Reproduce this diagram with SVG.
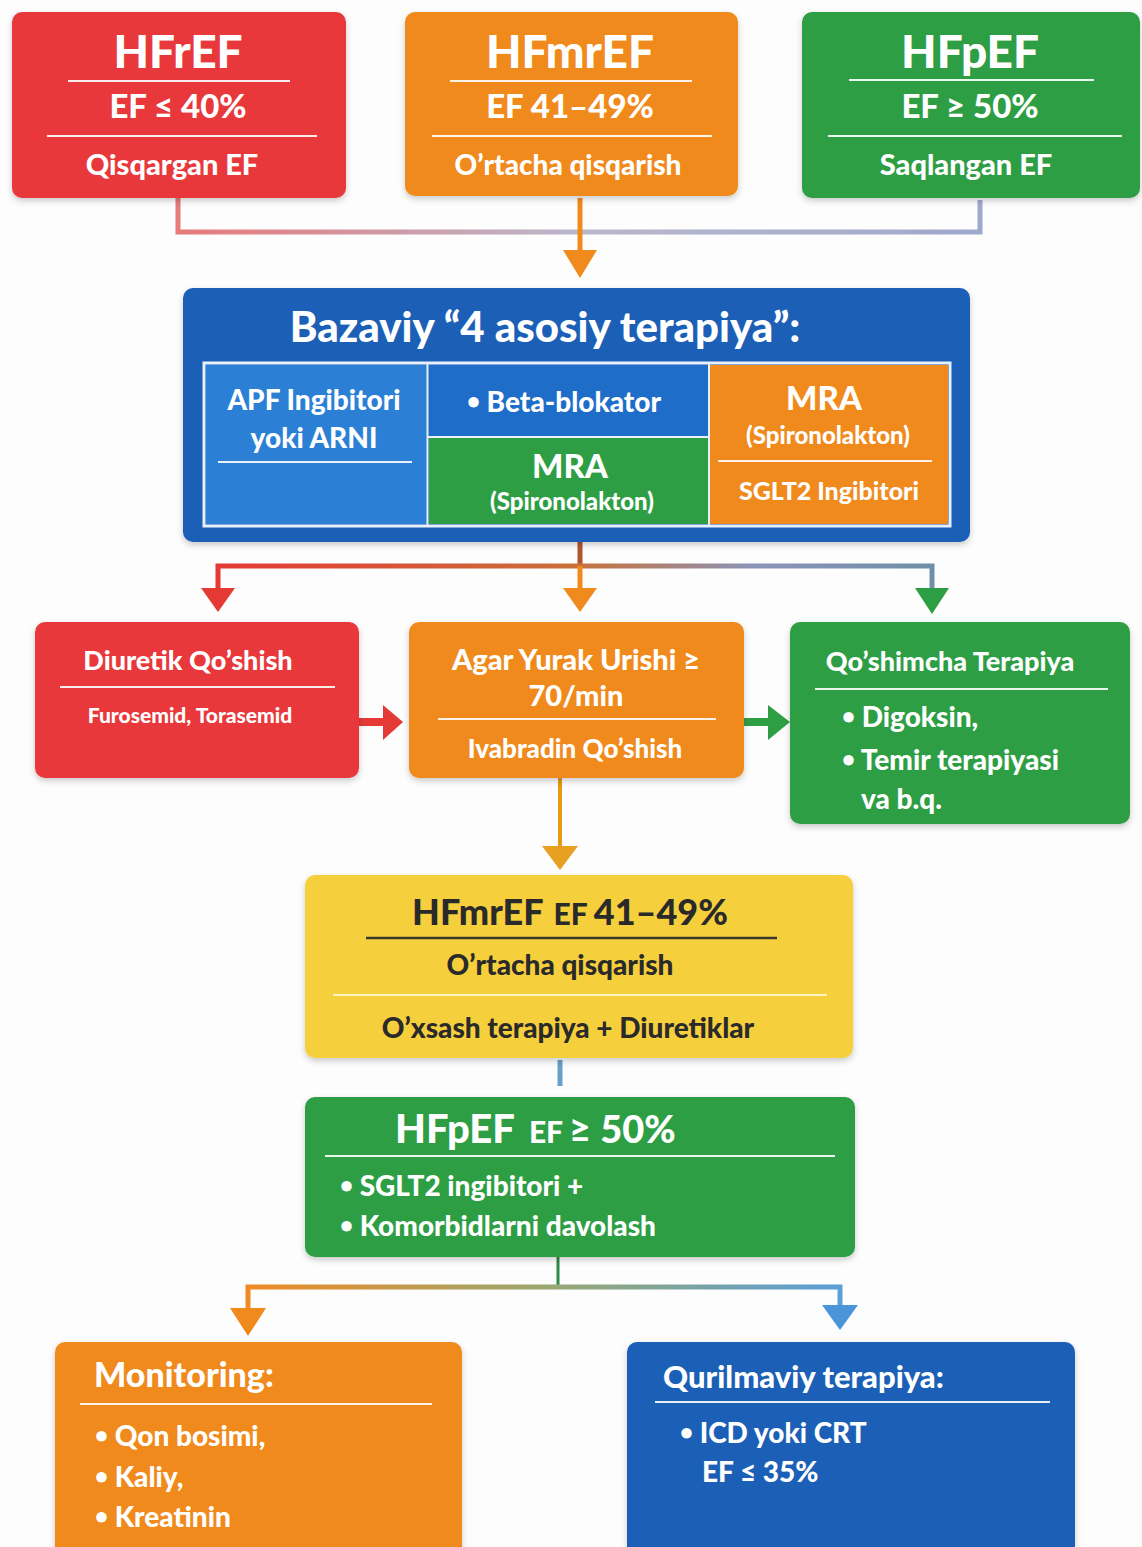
<svg xmlns="http://www.w3.org/2000/svg" width="1142" height="1547" viewBox="0 0 1142 1547">
<style>
text{font-family:Lato,"Open Sans","Liberation Sans",sans-serif;font-weight:900;fill:#fff}
.c{text-anchor:middle}
.dk{fill:#2a2a2a}
.b{font-size:0.8em;baseline-shift:0.12em}
.sep{stroke:#fff;stroke-width:2;opacity:0.9}
.sepd{stroke:#3a3a2a;stroke-width:2.5}
.sepl{stroke:#fff3c0;stroke-width:2}
</style>
<defs>
<filter id="sh" x="-5%" y="-5%" width="110%" height="115%">
<feDropShadow dx="0" dy="3" stdDeviation="3" flood-color="#000" flood-opacity="0.2"/>
</filter>
<linearGradient id="g1" x1="0" x2="1"><stop offset="0" stop-color="#e87a7a"/><stop offset="0.5" stop-color="#b9b7cc"/><stop offset="1" stop-color="#9fa9cc"/></linearGradient>
<linearGradient id="g2" x1="0" x2="1"><stop offset="0" stop-color="#e53935"/><stop offset="0.5" stop-color="#c9703a"/><stop offset="0.75" stop-color="#8b94b8"/><stop offset="1" stop-color="#6f8fa8"/></linearGradient>
<linearGradient id="g3" x1="0" x2="1"><stop offset="0" stop-color="#f08a24"/><stop offset="0.5" stop-color="#9aa870"/><stop offset="1" stop-color="#5a9fd8"/></linearGradient>
</defs>
<rect width="1142" height="1547" fill="#fdfdfd"/>

<g id="connectors">
<path d="M178 198 V232 H980 V200" fill="none" stroke="url(#g1)" stroke-width="5"/>
<path d="M580 198 V254" stroke="#f08a1c" stroke-width="5" fill="none"/>
<polygon points="563,250 597,250 580,278" fill="#f08a1c"/>

<path d="M580 542 V566" stroke="#b0562e" stroke-width="5"/>
<path d="M218 592 V566 H932 V592" fill="none" stroke="url(#g2)" stroke-width="5"/>
<path d="M580 566 V592" stroke="#f08a1c" stroke-width="5"/>
<polygon points="201,588 235,588 218,612" fill="#e53935"/>
<polygon points="563,588 597,588 580,612" fill="#f08a1c"/>
<polygon points="915,588 949,588 932,614" fill="#2e9e44"/>

<path d="M359 722 H385" stroke="#e53935" stroke-width="8"/>
<polygon points="383,705 403,722 383,740" fill="#e53935"/>
<path d="M744 722 H770" stroke="#2e9e44" stroke-width="8"/>
<polygon points="768,705 790,722 768,740" fill="#2e9e44"/>

<path d="M560 778 V850" stroke="#e29a18" stroke-width="4"/>
<polygon points="542,846 578,846 560,870" fill="#e8a020"/>

<path d="M560 1060 V1086" stroke="#6a9fc8" stroke-width="5"/>

<path d="M558 1257 V1287" stroke="#2e8a44" stroke-width="3"/>
<path d="M248 1312 V1287 H840 V1308" fill="none" stroke="url(#g3)" stroke-width="5"/>
<polygon points="230,1308 266,1308 248,1336" fill="#f08a1c"/>
<polygon points="822,1305 858,1305 840,1330" fill="#4a94d8"/>
</g>

<g id="hfref">
<rect x="12" y="12" width="334" height="186" rx="10" fill="#e8393a" filter="url(#sh)"/>
<text x="178" y="68" class="c" font-size="46">HFrEF</text>
<line x1="68" y1="81" x2="290" y2="81" class="sep"/>
<text x="178" y="118" class="c" font-size="33">EF ≤ 40%</text>
<line x1="47" y1="136" x2="317" y2="136" class="sep"/>
<text x="172" y="175" class="c" font-size="29">Qisqargan EF</text>
</g>

<g id="hfmref">
<rect x="405" y="12" width="333" height="184" rx="10" fill="#f18a1c" filter="url(#sh)"/>
<text x="570" y="68" class="c" font-size="46">HFmrEF</text>
<line x1="450" y1="81" x2="692" y2="81" class="sep"/>
<text x="570" y="118" class="c" font-size="33">EF 41–49%</text>
<line x1="432" y1="136" x2="712" y2="136" class="sep"/>
<text x="568" y="175" class="c" font-size="28">O’rtacha qisqarish</text>
</g>

<g id="hfpef">
<rect x="802" y="12" width="338" height="186" rx="10" fill="#2e9e44" filter="url(#sh)"/>
<text x="970" y="68" class="c" font-size="46">HFpEF</text>
<line x1="849" y1="80" x2="1094" y2="80" class="sep"/>
<text x="970" y="118" class="c" font-size="33">EF ≥ 50%</text>
<line x1="828" y1="136" x2="1122" y2="136" class="sep"/>
<text x="966" y="175" class="c" font-size="29">Saqlangan EF</text>
</g>

<g id="bazaviy">
<rect x="183" y="288" width="787" height="254" rx="10" fill="#1c5fb6" filter="url(#sh)"/>
<text x="545" y="342" class="c" font-size="42">Bazaviy “4 asosiy terapiya”:</text>
<rect x="204" y="363" width="746" height="163" fill="none" stroke="#e8f0fa" stroke-width="3"/>
<rect x="206" y="365" width="221" height="159" fill="#2b80d6"/>
<rect x="429" y="365" width="279" height="71" fill="#1e6dc9"/>
<rect x="429" y="438" width="279" height="86" fill="#2e9e44"/>
<rect x="710" y="365" width="238" height="159" fill="#f18a1c"/>
<line x1="427.5" y1="364" x2="427.5" y2="525" stroke="#e8f0fa" stroke-width="2"/>
<line x1="709" y1="364" x2="709" y2="525" stroke="#e8f0fa" stroke-width="2"/>
<line x1="428" y1="437" x2="709" y2="437" stroke="#e8f0fa" stroke-width="2"/>
<text x="314" y="410" class="c" font-size="28">APF Ingibitori</text>
<text x="314" y="448" class="c" font-size="28">yoki ARNI</text>
<line x1="218" y1="462" x2="412" y2="462" class="sep"/>
<text x="564" y="412" class="c" font-size="28"><tspan class="b">•</tspan> Beta-blokator</text>
<text x="570" y="478" class="c" font-size="33">MRA</text>
<text x="572" y="510" class="c" font-size="24">(Spironolakton)</text>
<text x="824" y="410" class="c" font-size="33">MRA</text>
<text x="828" y="444" class="c" font-size="24">(Spironolakton)</text>
<line x1="718" y1="461" x2="932" y2="461" class="sep"/>
<text x="829" y="500" class="c" font-size="25">SGLT2 Ingibitori</text>
</g>

<g id="diuretik">
<rect x="35" y="622" width="324" height="156" rx="10" fill="#e8393a" filter="url(#sh)"/>
<text x="188" y="670" class="c" font-size="27">Diuretik Qo’shish</text>
<line x1="60" y1="687" x2="335" y2="687" class="sep"/>
<text x="190" y="723" class="c" font-size="21">Furosemid, Torasemid</text>
</g>

<g id="agar">
<rect x="409" y="622" width="335" height="156" rx="10" fill="#f18a1c" filter="url(#sh)"/>
<text x="576" y="670" class="c" font-size="29">Agar Yurak Urishi ≥</text>
<text x="576" y="706" class="c" font-size="29">70/min</text>
<line x1="438" y1="719" x2="716" y2="719" class="sep"/>
<text x="575" y="758" class="c" font-size="26">Ivabradin Qo’shish</text>
</g>

<g id="qoshimcha">
<rect x="790" y="622" width="340" height="202" rx="10" fill="#2e9e44" filter="url(#sh)"/>
<text x="950" y="671" class="c" font-size="27">Qo’shimcha Terapiya</text>
<line x1="815" y1="689" x2="1108" y2="689" class="sep"/>
<text x="842" y="727" font-size="28"><tspan class="b">•</tspan> Digoksin,</text>
<text x="842" y="770" font-size="28"><tspan class="b">•</tspan> Temir terapiyasi</text>
<text x="861" y="809" font-size="28">va b.q.</text>
</g>

<g id="hfmref2">
<rect x="305" y="875" width="548" height="183" rx="10" fill="#f6cf3c" filter="url(#sh)"/>
<text x="570" y="925" class="c dk"><tspan font-size="36">HFmrEF</tspan><tspan font-size="30" dx="10">EF</tspan><tspan font-size="36" dx="6">41–49%</tspan></text>
<line x1="366" y1="938" x2="777" y2="938" class="sepd"/>
<text x="560" y="975" class="c dk" font-size="28">O’rtacha qisqarish</text>
<line x1="333" y1="995" x2="827" y2="995" class="sepl"/>
<text x="568" y="1038" class="c dk" font-size="28">O’xsash terapiya + Diuretiklar</text>
</g>

<g id="hfpef2">
<rect x="305" y="1097" width="550" height="160" rx="10" fill="#2e9e44" filter="url(#sh)"/>
<text x="550" y="1143"><tspan x="395" font-size="40">HFpEF</tspan><tspan font-size="30" dx="14">EF</tspan><tspan font-size="38" dx="6">≥ 50%</tspan></text>
<line x1="325" y1="1156" x2="835" y2="1156" class="sep"/>
<text x="340" y="1196" font-size="28"><tspan class="b">•</tspan> SGLT2 ingibitori +</text>
<text x="340" y="1236" font-size="28"><tspan class="b">•</tspan> Komorbidlarni davolash</text>
</g>

<g id="monitoring">
<rect x="55" y="1342" width="407" height="220" rx="10" fill="#f18a1c" filter="url(#sh)"/>
<text x="94" y="1387" font-size="34">Monitoring:</text>
<line x1="80" y1="1404" x2="432" y2="1404" class="sep"/>
<text x="95" y="1446" font-size="28"><tspan class="b">•</tspan> Qon bosimi,</text>
<text x="95" y="1487" font-size="28"><tspan class="b">•</tspan> Kaliy,</text>
<text x="95" y="1527" font-size="28"><tspan class="b">•</tspan> Kreatinin</text>
</g>

<g id="qurilmaviy">
<rect x="627" y="1342" width="448" height="220" rx="10" fill="#1c5fb6" filter="url(#sh)"/>
<text x="663" y="1388" font-size="31">Qurilmaviy terapiya:</text>
<line x1="655" y1="1402" x2="1050" y2="1402" class="sep"/>
<text x="680" y="1443" font-size="28"><tspan class="b">•</tspan> ICD yoki CRT</text>
<text x="702" y="1482" font-size="28">EF ≤ 35%</text>
</g>
</svg>
